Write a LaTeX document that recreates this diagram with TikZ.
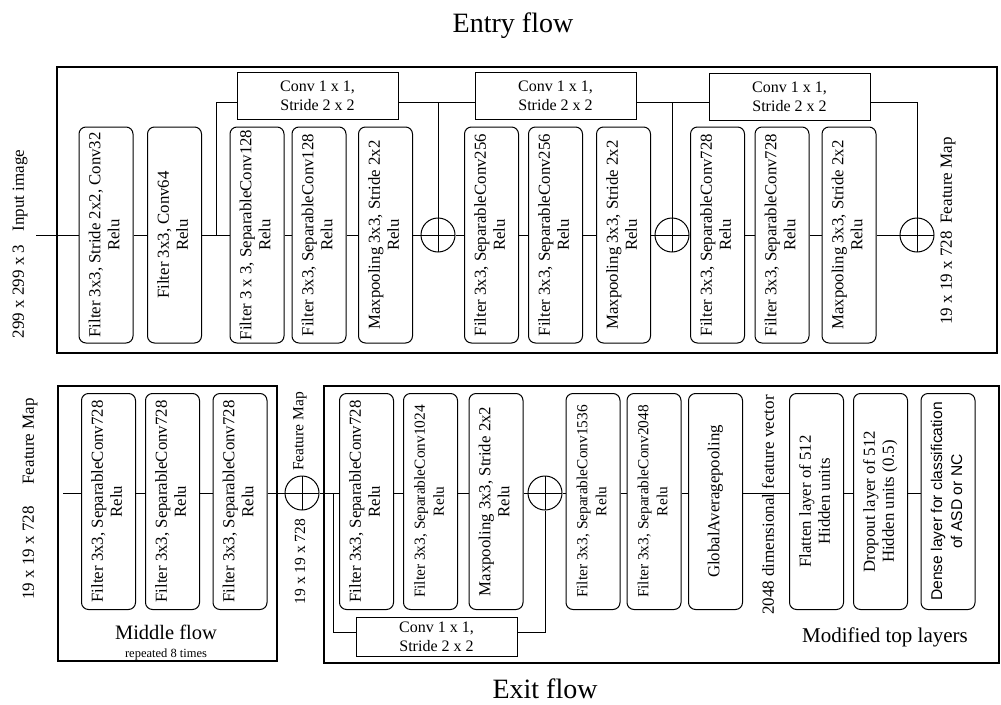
\documentclass[tikz,border=0pt]{standalone}
\usepackage{fontspec}
\setmainfont{Liberation Serif}
\newfontfamily\densefont{Liberation Sans}
\newcommand\vlines[1]{\rotatebox{90}{\begin{tabular}{@{}c@{}}#1\end{tabular}}}
\tikzset{
  layer/.style={draw, rounded corners=7pt, line width=1pt, minimum width=54,
    minimum height=216, inner sep=0pt, font=\fontsize{16.8}{19}\selectfont},
  small/.style={font=\fontsize{15.4}{19}\selectfont},
  conv/.style={draw, line width=1pt, minimum width=161, minimum height=47,
    inner sep=0pt, align=center, font=\fontsize{16}{19}\selectfont},
  sum/.style={circle, draw, line width=1pt, minimum size=34, inner sep=0pt,
    path picture={\draw (path picture bounding box.north) -- (path picture bounding box.south)
      (path picture bounding box.west) -- (path picture bounding box.east);}},
  frame/.style={draw, line width=1.2pt},
  link/.style={draw, line width=1pt},
  label/.style={rotate=90, inner sep=0pt, font=\fontsize{17}{20}\selectfont},
  title/.style={anchor=base, inner sep=0pt}
}
\begin{document}
\begin{tikzpicture}[x=1pt, y=-1pt]
  \useasboundingbox (0,0) rectangle (1001,704);
  % Entry flow.
  \node[title, font=\fontsize{28}{32}\selectfont] (entry) at (513,32) {Entry flow};
  \draw[frame] (57,67) rectangle (997,353);
  \node[label] (inlbl) at (20,244) {299 x 299 x 3\hspace{13pt}Input image};
  \coordinate (in) at (36,235);
  \node[layer] (b1) at (106,235) {\vlines{Filter 3x3, Stride 2x2, Conv32\\Relu}};
  \node[layer] (b2) at (174.5,235) {\vlines{Filter 3x3, Conv64\\Relu}};
  \node[layer] (b3) at (257,235) {\vlines{Filter 3 x 3, SeparableConv128\\Relu}};
  \node[layer] (b4) at (319,235) {\vlines{Filter 3x3, SeparableConv128\\Relu}};
  \node[layer] (b5) at (385.5,235) {\vlines{Maxpooling 3x3, Stride 2x2\\Relu}};
  \node[sum] (c1) at (438,235) {};
  \node[layer] (b6) at (491.5,235) {\vlines{Filter 3x3, SeparableConv256\\Relu}};
  \node[layer] (b7) at (555.5,235) {\vlines{Filter 3x3, SeparableConv256\\Relu}};
  \node[layer] (b8) at (623.5,235) {\vlines{Maxpooling 3x3, Stride 2x2\\Relu}};
  \node[sum] (c2) at (672,235) {};
  \node[layer] (b9) at (717.5,235) {\vlines{Filter 3x3, SeparableConv728\\Relu}};
  \node[layer] (b10) at (782,235) {\vlines{Filter 3x3, SeparableConv728\\Relu}};
  \node[layer] (b11) at (849,235) {\vlines{Maxpooling 3x3, Stride 2x2\\Relu}};
  \node[sum] (c3) at (917,235) {};
  \node[label] (fm1) at (948,231) {19 x 19 x 728\hspace{8pt}Feature Map};
  \node[conv] (s1) at (317.5,95.5) {Conv 1 x 1,\\Stride 2 x 2};
  \node[conv] (s2) at (555.5,95.5) {Conv 1 x 1,\\Stride 2 x 2};
  \node[conv] (s3) at (789.5,97) {Conv 1 x 1,\\Stride 2 x 2};
  \draw[link] (in) -- (b1) -- (b2) -- (b3) -- (b4) -- (b5) -- (c1) -- (b6) -- (b7)
    -- (b8) -- (c2) -- (b9) -- (b10) -- (b11) -- (c3);
  % Shortcuts.
  \coordinate (sk) at (0,102);
  \coordinate (j1) at (216,235);
  \draw[link] (j1) |- (s1.west |- sk);
  \draw[link] (s1.east |- sk) -- (s2.west |- sk);
  \draw[link] (c1.north) -- (c1 |- sk);
  \draw[link] (s2.east |- sk) -- (s3.west |- sk);
  \draw[link] (c2.north) -- (c2 |- sk);
  \draw[link] (s3.east |- sk) -| (c3.north);

  % Middle flow.
  \draw[frame] (58,386) rectangle (277,661);
  \node[label] (fm2) at (30,499) {19 x 19 x 728\hspace{22pt}Feature Map};
  \coordinate (ml) at (63,493);
  \node[layer] (m1) at (108.5,501.5) {\vlines{Filter 3x3, SeparableConv728\\Relu}};
  \node[layer] (m2) at (172.5,501.5) {\vlines{Filter 3x3, SeparableConv728\\Relu}};
  \node[layer] (m3) at (240,501.5) {\vlines{Filter 3x3, SeparableConv728\\Relu}};
  \node[title, font=\fontsize{20.5}{24}\selectfont] (mid) at (166,639) {Middle flow};
  \node[title, font=\fontsize{12.5}{14}\selectfont] (rep) at (166,657) {repeated 8 times};
  \node[sum] (cm) at (302,493) {};
  \node[label, font=\fontsize{15.5}{18}\selectfont] (fm3) at (300,431.5) {Feature Map};
  \node[label, font=\fontsize{15.5}{18}\selectfont] (sz3) at (300,561.5) {19 x 19 x 728};

  % Exit flow.
  \draw[frame] (324,386) rectangle (999,663);
  \node[layer] (e1) at (366.5,501.5) {\vlines{Filter 3x3, SeparableConv728\\Relu}};
  \node[layer, small] (e2) at (430.5,501.5) {\vlines{Filter 3x3, SeparableConv1024\\Relu}};
  \node[layer] (e3) at (496,501.5) {\vlines{Maxpooling 3x3, Stride 2x2\\Relu}};
  \node[sum] (ce) at (545,493) {};
  \node[layer, small] (e4) at (593,501.5) {\vlines{Filter 3x3, SeparableConv1536\\Relu}};
  \node[layer, small] (e5) at (654,501.5) {\vlines{Filter 3x3, SeparableConv2048\\Relu}};
  \node[layer] (e6) at (715.5,501.5) {\vlines{GlobalAveragepooling}};
  \node[layer] (e7) at (816.5,501.5) {\vlines{Flatten layer of 512\\Hidden units}};
  \node[layer] (e8) at (880.5,501.5) {\vlines{Dropout layer of 512\\Hidden units (0.5)}};
  \node[layer, font=\densefont\fontsize{15.6}{20}\selectfont] (e9) at (948,501.5)
    {\vlines{Dense layer for classification\\of ASD or NC}};
  \node[conv, minimum height=39] (s4) at (436.5,636.5) {Conv 1 x 1,\\Stride 2 x 2};
  \node[title, font=\fontsize{21}{24}\selectfont] (top) at (885,642) {Modified top layers};
  \node[title, font=\fontsize{28}{32}\selectfont] (exit) at (545,698) {Exit flow};
  \draw[link] (ml) -- (m1.west |- ml);
  \foreach \a/\b in {m1/m2, m2/m3, e1/e2, e2/e3, e4/e5, e5/e6, e6/e7, e7/e8, e8/e9}
    \draw[link] (\a.east |- ml) -- (\b.west |- ml);
  \draw[link] (m3.east |- ml) -- (cm);
  \draw[link] (cm) -- (e1.west |- ml);
  \draw[link] (e3.east |- ml) -- (ce);
  \draw[link] (ce) -- (e4.west |- ml);
  \node[label] (vec) at (768,505) {2048 dimensional feature vector};
  % Shortcut.
  \coordinate (sk2) at (0,632);
  \coordinate (j2) at (333,493);
  \draw[link] (j2) |- (s4.west |- sk2);
  \draw[link] (s4.east |- sk2) -| (ce.south);
\end{tikzpicture}
\end{document}
